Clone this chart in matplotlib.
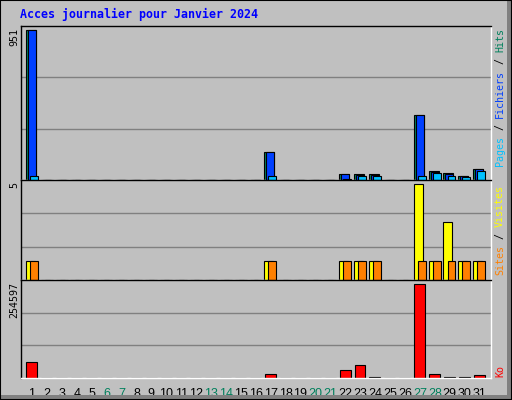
import matplotlib
matplotlib.use("Agg")
import matplotlib.pyplot as plt
from matplotlib.patches import Rectangle
import numpy as np

title = "Acces journalier pour Janvier 2024"
days = list(range(1, 32))
weekend_days = [6, 7, 13, 14, 20, 21, 27, 28]

# Panel 1 : Hits / Fichiers / Pages
hits = [951, 0, 0, 0, 0, 0, 0, 0, 0, 0, 0, 0, 0, 0, 0, 0, 175, 0, 0, 0, 0,
        38, 38, 38, 0, 0, 413, 56, 44, 25, 69]
files = [951, 0, 0, 0, 0, 0, 0, 0, 0, 0, 0, 0, 0, 0, 0, 0, 175, 0, 0, 0, 0,
         38, 31, 31, 0, 0, 413, 50, 38, 25, 69]
pages = [25, 0, 0, 0, 0, 0, 0, 0, 0, 0, 0, 0, 0, 0, 0, 0, 25, 0, 0, 0, 0,
         6, 25, 25, 0, 0, 25, 44, 25, 20, 56]
# Panel 2 : Visites / Sites
visits = [1, 0, 0, 0, 0, 0, 0, 0, 0, 0, 0, 0, 0, 0, 0, 0, 1, 0, 0, 0, 0,
          1, 1, 1, 0, 0, 5, 1, 3, 1, 1]
sites = [1, 0, 0, 0, 0, 0, 0, 0, 0, 0, 0, 0, 0, 0, 0, 0, 1, 0, 0, 0, 0,
         1, 1, 1, 0, 0, 1, 1, 1, 1, 1]
# Panel 3 : Ko
kbytes = [44000, 0, 0, 0, 0, 0, 0, 0, 0, 0, 0, 0, 0, 0, 0, 0, 11000, 0, 0, 0, 0,
          22000, 36000, 2000, 0, 0, 254597, 11000, 2000, 2000, 8000]

max_labels = ["951", "5", "254597"]

GREY = "#C0C0C0"
DKGREY = "#808080"
C_HITS = "#00805C"
C_FILES = "#0040FF"
C_PAGES = "#00C0FF"
C_VISITS = "#FFFF00"
C_SITES = "#FF8000"
C_KB = "#FF0000"
C_WEEKEND = "#00805C"

W, H = 512, 400
fig = plt.figure(figsize=(W / 100, H / 100), dpi=100)
fig.patch.set_facecolor(GREY)

def fx(px):
    return px / W

def fy(py):
    return 1 - py / H

# outer frame with shadow
fig.patches.append(Rectangle((fx(0), fy(400)), fx(512), 5 / H, transform=fig.transFigure,
                             facecolor=DKGREY, edgecolor="none", zorder=0))
fig.patches.append(Rectangle((fx(507), fy(400)), fx(5), 1, transform=fig.transFigure,
                             facecolor=DKGREY, edgecolor="none", zorder=0))
fig.patches.append(Rectangle((0, 0), 1, 1, transform=fig.transFigure, fill=False,
                             edgecolor="black", linewidth=1.5, zorder=1))

left_px, right_px = 21, 491
panels_px = [(26, 180), (180, 280), (280, 378)]
px_per_day = 14.92
day1_px = 32
xlim = (1 - (day1_px - left_px) / px_per_day,
        1 + (right_px - day1_px) / px_per_day)

axes = []
for (top, bot) in panels_px:
    ax = fig.add_axes([fx(left_px), fy(bot), fx(right_px - left_px), (bot - top) / H])
    ax.set_facecolor(GREY)
    ax.set_xlim(*xlim)
    for s in ["top", "left"]:
        ax.spines[s].set_color("black")
        ax.spines[s].set_linewidth(1.0)
    for s in ["bottom", "right"]:
        ax.spines[s].set_color("white")
        ax.spines[s].set_linewidth(1.0)
    ax.tick_params(left=False, labelleft=False, bottom=False, labelbottom=False)
    axes.append(ax)

x = np.array(days, dtype=float)
ec = dict(edgecolor="black", linewidth=0.8)

def setup_y(ax, vmax, bottom_px, top_px):
    h = bottom_px - top_px
    top = vmax * h / (h - 4)
    ax.set_ylim(0, top)
    for f in (1 / 3, 2 / 3):
        ax.axhline(top * f, color=DKGREY, linewidth=1.0, zorder=0.5)

a1, a2, a3 = axes
setup_y(a1, max(hits), 180, 26)
a1.bar(x - 0.42, hits, width=0.67, align="edge", color=C_HITS, zorder=2, **ec)
a1.bar(x - 0.29, files, width=0.54, align="edge", color=C_FILES, zorder=3, **ec)
a1.bar(x - 0.15, pages, width=0.53, align="edge", color=C_PAGES, zorder=4, **ec)

setup_y(a2, max(visits), 280, 180)
a2.bar(x - 0.42, visits, width=0.60, align="edge", color=C_VISITS, zorder=2, **ec)
a2.bar(x - 0.15, sites, width=0.53, align="edge", color=C_SITES, zorder=3, **ec)

setup_y(a3, max(kbytes), 378, 280)
a3.bar(x - 0.38, kbytes, width=0.73, align="edge", color=C_KB, zorder=2, **ec)

# day labels
a3.set_xticks(days)
a3.set_xticklabels([str(d) for d in days])
a3.tick_params(bottom=False, labelbottom=True, pad=3.5, labelsize=9)
for lab, d in zip(a3.get_xticklabels(), days):
    lab.set_fontfamily("Liberation Sans")
    lab.set_color(C_WEEKEND if d in weekend_days else "black")
    lab.set_x(d)

# title
fig.text(fx(20), fy(14), title, color="#0000FF", fontsize=8.4,
         family="DejaVu Sans Mono", fontweight="bold", ha="left", va="center")

mono = dict(family="DejaVu Sans Mono", fontsize=7.2, rotation=90)
# max labels on left
for (top, bot), lab in zip(panels_px, max_labels):
    fig.text(fx(14), fy(top + 2), lab, color="black", ha="center", va="top", **mono)

# right-side legends: pieces drawn bottom-up, 6 px per char
def legend_up(pieces, bottom_px, xc=500):
    pos = bottom_px
    for txt, col in pieces:
        fig.text(fx(xc), fy(pos), txt, color=col, ha="center", va="bottom", **mono)
        pos -= 6 * len(txt)

legend_up([("Pages", C_PAGES), (" / ", "black"), ("Fichiers", C_FILES),
           (" / ", "black"), ("Hits", C_HITS)], 166)
legend_up([("Sites", C_SITES), (" / ", "black"), ("Visites", C_VISITS)], 275)
legend_up([("Ko", C_KB)], 377)

fig.savefig("out.png", dpi=100, facecolor=GREY)
